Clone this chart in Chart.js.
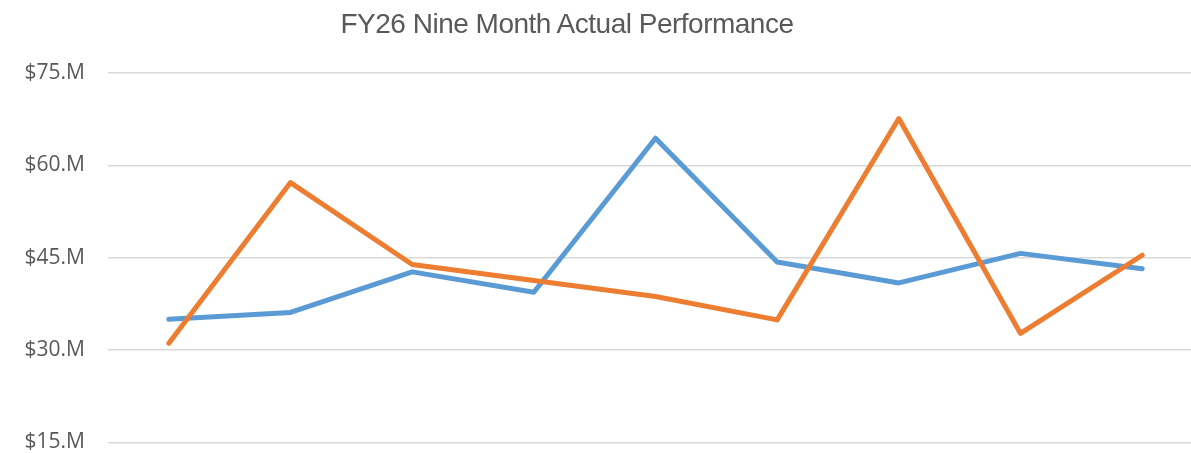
<!DOCTYPE html>
<html>
<head>
<meta charset="utf-8">
<script src="https://cdn.jsdelivr.net/npm/chart.js@4"></script>
<style>
    html, body { margin: 0; padding: 0; background: #fff; overflow: hidden; }
    #wrap { position: relative; width: 1215px; height: 478px; }
    #title {
        position: absolute; top: 8px; left: 567px; transform: translateX(-50%);
        font-family: "Liberation Sans", Arial, sans-serif; font-size: 28px;
        letter-spacing: -0.5px; color: #595959; white-space: nowrap;
    }
</style>
</head>
<body>
<div id="wrap">
    <canvas id="perfChart"></canvas>
    <div id="title">FY26 Nine Month Actual Performance</div>
</div>
<script>
// Months (axis labels are cut off in the source picture)
const months = ['Jul', 'Aug', 'Sep', 'Oct', 'Nov', 'Dec', 'Jan', 'Feb', 'Mar'];

// Values in $M
const blueSeries = [35.0, 36.1, 42.7, 39.4, 64.4, 44.3, 40.9, 45.7, 43.2];
const orangeSeries = [31.1, 57.2, 43.9, 41.3, 38.7, 34.9, 67.6, 32.7, 45.4];

// Y axis ticks
const yTicks = [15, 30, 45, 60, 75];

const COLORS = {
    blue: '#5b9bd5',
    orange: '#ed7d31',
    grid: '#d9d9d9',
    text: '#595959'
};

new Chart(document.getElementById('perfChart'), {
    type: 'line',
    data: {
        labels: months,
        datasets: [{
            label: 'Actual',
            data: blueSeries,
            borderColor: COLORS.blue,
            borderWidth: 5,
            order: 1
        }, {
            label: 'Plan',
            data: orangeSeries,
            borderColor: COLORS.orange,
            borderWidth: 5,
            order: 0
        }]
    },
    options: {
        responsive: true,
        maintainAspectRatio: false,
        animation: false,
        elements: {
            point: { radius: 0 },
            line: { tension: 0, borderCapStyle: 'round', borderJoinStyle: 'round' }
        },
        layout: { padding: { top: 73, right: 12, bottom: 10, left: 0 } },
        plugins: {
            legend: { display: false },
            tooltip: { enabled: false }
        },
        scales: {
            x: {
                display: false,
                offset: true
            },
            y: {
                min: yTicks[0],
                max: yTicks[yTicks.length - 1],
                afterBuildTicks: function(scale) {
                    scale.ticks = yTicks.map(v => ({ value: v }));
                },
                afterFit: function(scale) {
                    scale.width = 108;
                },
                border: { display: false },
                grid: { color: COLORS.grid, lineWidth: 1.5, drawTicks: false },
                ticks: {
                    padding: 23,
                    color: COLORS.text,
                    font: { family: '"Open Sans"', size: 21 },
                    callback: v => '$' + v + '.M'
                }
            }
        }
    }
});
</script>
</body>
</html>
